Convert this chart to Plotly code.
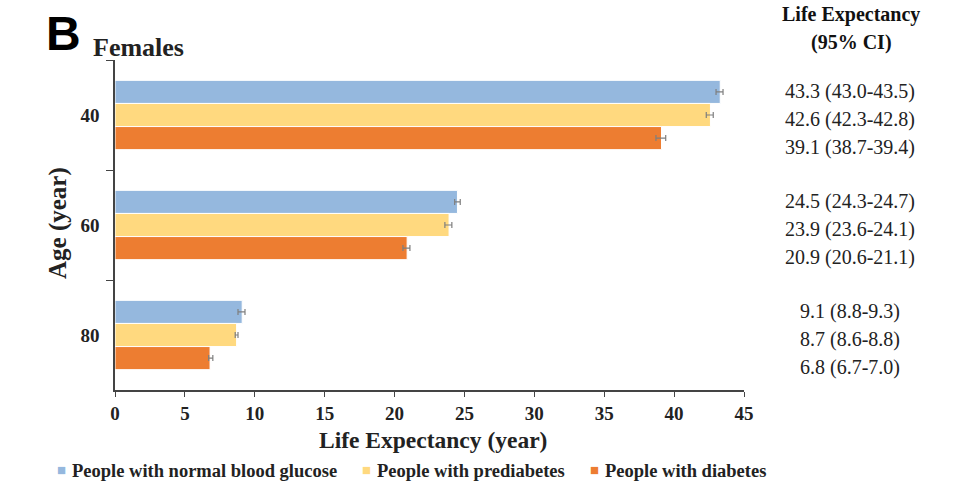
import plotly.graph_objects as go

ages = ["40", "60", "80"]
series_names = ["People with normal blood glucose", "People with prediabetes", "People with diabetes"]
colors = ["#95B8DE", "#FFD97F", "#ED7D31"]
le = [
    [43.3, 24.5, 9.1],
    [42.6, 23.9, 8.7],
    [39.1, 20.9, 6.8],
]
lo = [
    [43.0, 24.3, 8.8],
    [42.3, 23.6, 8.6],
    [38.7, 20.6, 6.7],
]
hi = [
    [43.5, 24.7, 9.3],
    [42.8, 24.1, 8.8],
    [39.4, 21.1, 7.0],
]
x_ticks = list(range(0, 46, 5))

serif = "Liberation Serif, Times New Roman, serif"
W, H = 960, 487
plot_left, plot_right, top, bottom = 115, 744, 60, 390

def px(pix):
    return (pix - plot_left) / (plot_right - plot_left)

def py(pix):
    return (bottom - pix) / (bottom - top)

fig = go.Figure()
for i, name in enumerate(series_names):
    fig.add_trace(go.Bar(
        y=ages, x=le[i], name=name, orientation="h",
        marker=dict(color=colors[i], line=dict(color="white", width=1)),
        error_x=dict(type="data", symmetric=False,
                     array=[h - v for h, v in zip(hi[i], le[i])],
                     arrayminus=[v - l for l, v in zip(lo[i], le[i])],
                     color="#7f7f7f", thickness=1.2, width=3),
        showlegend=False,
    ))

annots = []
offsets = [-0.21, 0.045, 0.295]
for g in range(3):
    for i in range(3):
        annots.append(dict(
            x=px(850), xref="paper", y=g + offsets[i], yref="y",
            text=f"{le[i][g]:.1f} ({lo[i][g]:.1f}-{hi[i][g]:.1f})",
            showarrow=False, font=dict(family=serif, size=20, color="#222"),
            xanchor="center", yanchor="middle",
        ))

def txt(x, y, text, size, family=serif, color="#222", xanchor="center", textangle=0):
    annots.append(dict(x=px(x), y=py(y), xref="paper", yref="paper", text=text, showarrow=False,
                       font=dict(family=family, size=size, color=color), xanchor=xanchor,
                       yanchor="middle", textangle=textangle))

txt(851, 15, "<b>Life Expectancy</b>", 20, color="#111")
txt(851, 42, "<b>(95% CI)</b>", 20, color="#111")
txt(44, 33, "<b>B</b>", 48, family="Liberation Sans, Arial, sans-serif", color="#000", xanchor="left")
txt(91, 47, "<b>Females</b>", 26, xanchor="left")
txt(433, 440, "<b>Life Expectancy (year)</b>", 23.5)
txt(58, 223, "<b>Age (year)</b>", 25, textangle=-90)

# legend (manual)
leg_sq_x = [55, 360, 588]
for i, name in enumerate(series_names):
    txt(leg_sq_x[i], 470, f"<span style='color:{colors[i]}'>■</span>", 15, xanchor="left")
    txt(leg_sq_x[i] + 15, 471, f"<b>{name}</b>", 18.5, xanchor="left")

fig.update_layout(
    width=W, height=H,
    margin=dict(l=plot_left, r=W - plot_right, t=top, b=H - bottom),
    paper_bgcolor="white", plot_bgcolor="white",
    barmode="group", bargap=0.37, bargroupgap=0,
    showlegend=False,
    annotations=annots,
    xaxis=dict(range=[0, 45], tickvals=x_ticks, ticktext=[f"<b>{t}</b>" for t in x_ticks],
               showgrid=False, zeroline=False, automargin=False,
               showline=True, linecolor="#444", linewidth=1.5, ticks="outside", ticklen=5,
               tickcolor="#444", tickfont=dict(family=serif, size=19, color="#222")),
    yaxis=dict(autorange="reversed", showgrid=False, zeroline=False, showline=True, automargin=False,
               linecolor="#444", linewidth=1.5, ticks="outside", ticklen=7, tickcolor="#444",
               tickson="boundaries",
               tickfont=dict(family=serif, size=19, color="#222"), ticklabelstandoff=10,
               tickprefix="<b>", ticksuffix="</b>"),
)
fig.write_html("out.html")
